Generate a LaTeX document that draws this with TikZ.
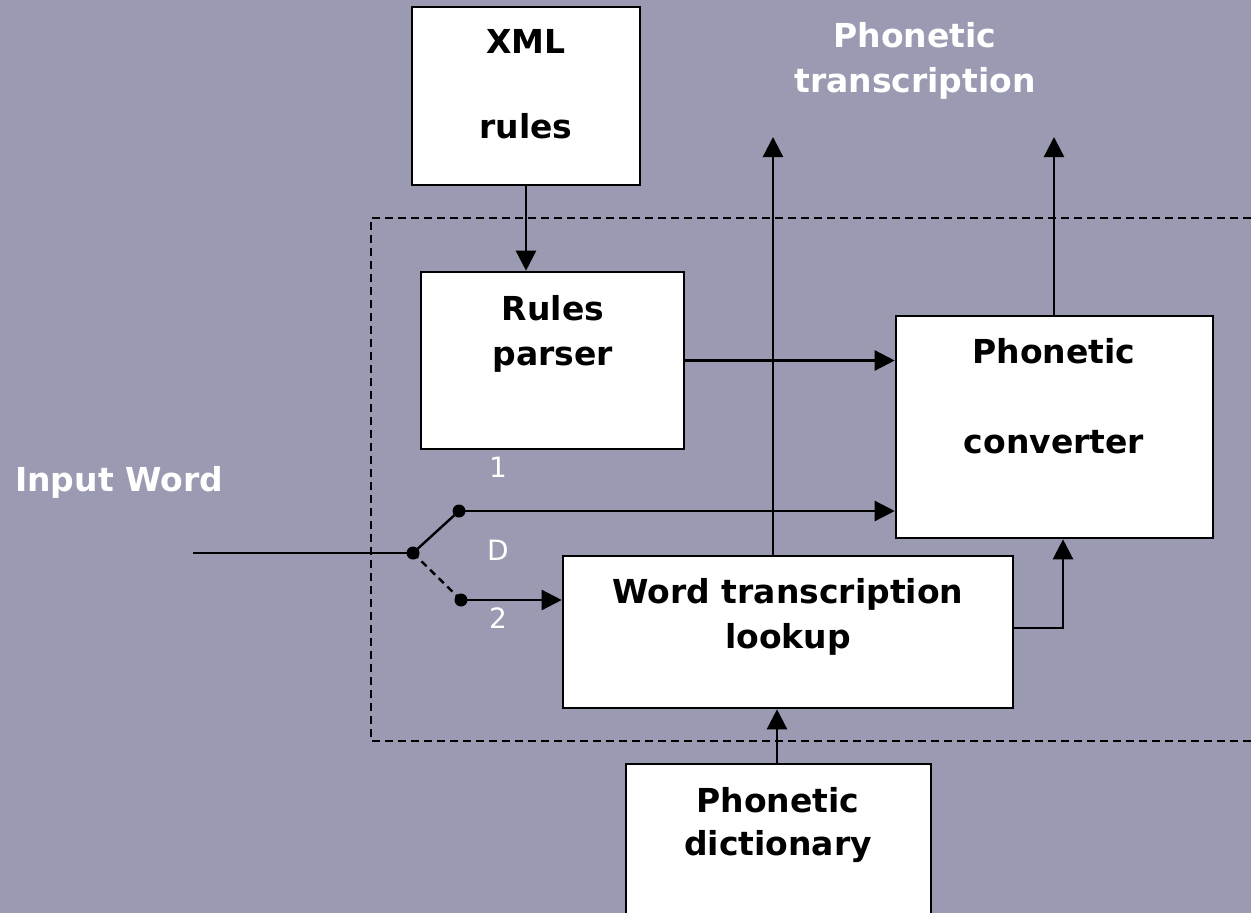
\documentclass[tikz,border=0pt]{standalone}
\usepackage{fontspec}
\setmainfont{DejaVu Sans}
\usetikzlibrary{arrows.meta}
\definecolor{panel}{RGB}{154,154,178}
\begin{document}
\begin{tikzpicture}[x=1pt,y=-1pt,
  box/.style={draw, line width=2.6pt, fill=white, inner sep=0pt},
  lbl/.style={font=\fontsize{33}{40}\selectfont\bfseries, anchor=base, inner sep=0pt},
  wlbl/.style={lbl, text=white},
  pinlbl/.style={font=\fontsize{28}{34}\selectfont, text=white, anchor=base, inner sep=0pt},
  arr/.style={line width=2.4pt, -{Triangle[length=20pt,width=20pt]}},
  wire/.style={line width=2.4pt},
  swdot/.style={circle, fill=black, inner sep=0pt, minimum size=13pt},
  enclosure/.style={line width=2pt, dash pattern=on 8pt off 5pt}]

% background and page frame
\fill[panel] (0,0) rectangle (1251,913);
\useasboundingbox (0,0) rectangle (1251,913);
\clip (0,0) rectangle (1251,913);

% dashed boundary of the transcription module
\draw[enclosure] (1290,218) -- (371,218) -- (371,741) -- (1290,741);

% blocks
\node[box, minimum width=228pt, minimum height=178pt] (xml)  at (526,96) {};
\node[box, minimum width=263pt, minimum height=177pt] (parser) at (552.5,360.5) {};
\node[box, minimum width=317pt, minimum height=222pt] (conv) at (1054.5,427) {};
\node[box, minimum width=450pt, minimum height=152pt] (look) at (788,632) {};
\node[box, minimum width=305pt, minimum height=170pt] (dict) at (778.5,849) {};

% block texts
\node[lbl] (xml1) at (526,53) {XML};
\node[lbl] (xml2) at (526,138) {rules};
\node[lbl] (par1) at (553,320) {Rules};
\node[lbl] (par2) at (553,365) {parser};
\node[lbl] (con1) at (1054,363) {Phonetic};
\node[lbl] (con2) at (1054,453) {converter};
\node[lbl] (lk1) at (788,603) {Word transcription};
\node[lbl] (lk2) at (788,648) {lookup};
\node[lbl] (dc1) at (778,812) {Phonetic};
\node[lbl] (dc2) at (778,855) {dictionary};

% free labels
\node[wlbl] (out1) at (915,47) {Phonetic};
\node[wlbl] (out2) at (915,92) {transcription};
\node[wlbl, anchor=base west] (inw) at (15,491) {Input Word};
\node[pinlbl] (p1) at (498,477) {1};
\node[pinlbl] (pD) at (498,560) {D};
\node[pinlbl] (p2) at (498,628) {2};

% switch contacts
\coordinate (src) at (193,553);
\node[swdot] (piv) at (413,553) {};
\node[swdot] (up) at (459,511) {};
\node[swdot] (dn) at (461,600) {};
\coordinate (tipA) at (773,137);
\coordinate (tipB) at (1054,137);
\coordinate (bend) at (1063,628);

% connectors
\draw[arr] (xml.south) -- (xml.south |- parser.north);
\draw[arr] (parser.east) -- (parser.east -| conv.west);
\draw[wire] (src) -- (piv.center);
\draw[wire] (piv.center) -- (up.center);
\draw[wire, dash pattern=on 7pt off 5pt] (piv.center) -- (dn.center);
\draw[arr] (up.center) -- (up.center -| conv.west);
\draw[arr] (dn.center) -- (dn.center -| look.west);
\draw[arr] (look.north -| tipA) -- (tipA);
\draw[arr] (conv.north -| tipB) -- (tipB);
\draw[arr] (look.east |- bend) -- (bend) -- (bend |- conv.south);
\draw[arr] (dict.north -| 777,0) -- (look.south -| 777,0);
\end{tikzpicture}
\end{document}
